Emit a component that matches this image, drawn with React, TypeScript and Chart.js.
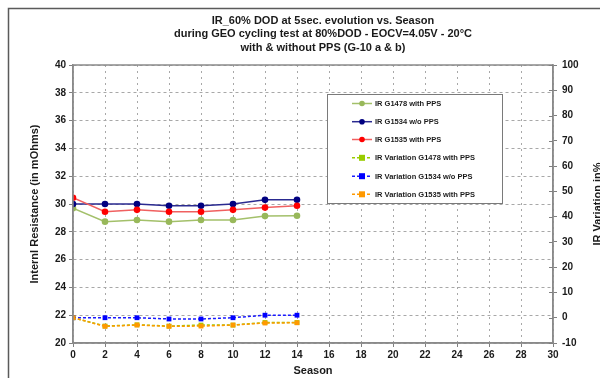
import React, { useEffect, useRef } from "react";
import { Chart, registerables } from "chart.js";

Chart.register(...registerables);

const seasons = [0, 2, 4, 6, 8, 10, 12, 14];
const irG1478 = [29.7, 28.73, 28.85, 28.73, 28.85, 28.85, 29.13, 29.15];
const irG1534 = [30.0, 30.0, 30.0, 29.87, 29.87, 30.0, 30.3, 30.3];
const irG1535 = [30.45, 29.44, 29.58, 29.44, 29.44, 29.58, 29.74, 29.87];
const varG1478 = [0, -3.3, -2.8, -3.3, -2.9, -2.9, -1.9, -1.9];
const varG1534 = [0, 0, 0, -0.5, -0.5, 0, 1.0, 1.0];
const varG1535 = [0, -3.4, -2.9, -3.4, -3.3, -2.9, -2.1, -2.0];

const seriesLabels = [
  "IR G1478 with PPS",
  "IR G1534 w/o PPS",
  "IR G1535 with PPS",
  "IR Variation G1478 with PPS",
  "IR Variation G1534 w/o PPS",
  "IR Variation G1535 with PPS",
];

const titleLines = [
  "IR_60% DOD at 5sec. evolution vs. Season",
  "during GEO cycling test at 80%DOD - EOCV=4.05V - 20°C",
  "with & without PPS (G-10 a & b)",
];
const xTitle = "Season";
const yTitle = "Internl Resistance (in mOhms)";
const y1Title = "IR Variation in%";

const FONT = "'Liberation Sans', Arial, sans-serif";

const pts = (vals: number[]) => vals.map((v, i) => ({ x: seasons[i], y: v }));

const decorPlugin = {
  id: "decor",
  beforeDraw(chart: any) {
    const ctx = chart.ctx;
    ctx.save();
    ctx.fillStyle = "#ffffff";
    ctx.fillRect(0, 0, chart.width, chart.height);
    ctx.restore();
  },
  afterDraw(chart: any) {
    const ctx = chart.ctx;
    const ca = chart.chartArea;
    ctx.save();
    // outer frame
    ctx.strokeStyle = "#5a5a5a";
    ctx.lineWidth = 1.5;
    ctx.beginPath();
    ctx.moveTo(8.5, chart.height);
    ctx.lineTo(8.5, 8.5);
    ctx.lineTo(chart.width, 8.5);
    ctx.stroke();

    // plot border
    ctx.strokeStyle = "#8a8a8a";
    ctx.lineWidth = 1.5;
    ctx.strokeRect(ca.left, ca.top, ca.right - ca.left, ca.bottom - ca.top);

    // inner ticks for right axis
    const y1 = chart.scales.y1;
    ctx.lineWidth = 1;
    ctx.strokeStyle = "#808080";
    y1.ticks.forEach((t: any) => {
      const yy = Math.round(y1.getPixelForValue(t.value)) + 0.5;
      ctx.beginPath();
      ctx.moveTo(ca.right - 4, yy);
      ctx.lineTo(ca.right, yy);
      ctx.stroke();
    });

    // title
    ctx.fillStyle = "#1a1a1a";
    ctx.font = `bold 11px ${FONT}`;
    ctx.textAlign = "center";
    ctx.textBaseline = "middle";
    const cx = 323;
    titleLines.forEach((l, i) => ctx.fillText(l, cx, 21 + i * 13.3));

    // axis titles
    ctx.fillText(xTitle, (ca.left + ca.right) / 2, 371);
    ctx.save();
    ctx.translate(35, (ca.top + ca.bottom) / 2);
    ctx.rotate(-Math.PI / 2);
    ctx.fillText(yTitle, 0, 0);
    ctx.restore();
    ctx.save();
    ctx.translate(598, 204);
    ctx.rotate(-Math.PI / 2);
    ctx.fillText(y1Title, 0, 0);
    ctx.restore();

    // legend
    const lx = 327.5, ly = 94.5, lw = 175, lh = 109;
    ctx.fillStyle = "#ffffff";
    ctx.fillRect(lx, ly, lw, lh);
    ctx.strokeStyle = "#7a7a7a";
    ctx.lineWidth = 1;
    ctx.strokeRect(lx, ly, lw, lh);
    const rows = [103.5, 121.7, 139.5, 157.8, 176.2, 194.3];
    chart.data.datasets.forEach((ds: any, i: number) => {
      const y = rows[i];
      ctx.save();
      ctx.strokeStyle = ds.borderColor;
      ctx.lineWidth = 1.5;
      ctx.setLineDash(ds.borderDash || []);
      ctx.beginPath();
      ctx.moveTo(352, y);
      ctx.lineTo(372, y);
      ctx.stroke();
      ctx.restore();
      ctx.fillStyle = ds.pointBackgroundColor;
      if (ds.pointStyle === "rect") {
        ctx.fillRect(362 - 3, y - 3, 6, 6);
      } else {
        ctx.beginPath();
        ctx.arc(362, y, 2.8, 0, Math.PI * 2);
        ctx.fill();
      }
      ctx.fillStyle = "#1a1a1a";
      ctx.font = `bold 7.5px ${FONT}`;
      ctx.textAlign = "left";
      ctx.fillText(ds.label, 375, y + 0.5);
    });
    ctx.restore();
  },
};

export default function App() {
  const ref = useRef<HTMLCanvasElement | null>(null);
  useEffect(() => {
    if (!ref.current) return;
    const mk = (
      i: number,
      vals: number[],
      line: string,
      point: string,
      axis: string,
      dashed: boolean
    ) => ({
      label: seriesLabels[i],
      data: pts(vals),
      yAxisID: axis,
      borderColor: line,
      backgroundColor: point,
      pointBackgroundColor: point,
      pointBorderColor: point,
      pointStyle: dashed ? "rect" : "circle",
      pointRadius: dashed ? 3.4 : 3.3,
      pointBorderWidth: 0,
      borderWidth: 1.5,
      borderDash: dashed ? [3, 2] : [],
      tension: 0,
      fill: false,
      order: 6 - i,
    });
    const chart = new Chart(ref.current, {
      type: "line",
      data: {
        datasets: [
          mk(0, irG1478, "#a3c06a", "#98b85a", "y", false),
          mk(1, irG1534, "#2a2a90", "#000080", "y", false),
          mk(2, irG1535, "#f06060", "#ff0000", "y", false),
          mk(3, varG1478, "#99cc00", "#99cc00", "y1", true),
          mk(4, varG1534, "#1a1aff", "#0000ff", "y1", true),
          mk(5, varG1535, "#ff9900", "#ff9900", "y1", true),
        ],
      },
      options: {
        animation: false,
        responsive: false,
        maintainAspectRatio: false,
        devicePixelRatio: 1,
        layout: { padding: { top: 65, left: 0, right: 0, bottom: 0 } },
        plugins: {
          legend: { display: false },
          title: { display: false },
          tooltip: { enabled: false },
        },
        scales: {
          x: {
            type: "linear",
            min: 0,
            max: 30,
            ticks: {
              stepSize: 2,
              color: "#1a1a1a",
              font: { family: FONT, size: 10, weight: "bold" },
              padding: 2,
              maxRotation: 0,
            },
            grid: {
              color: "#a8a8a8",
              lineWidth: 1,
              tickLength: 4,
              tickColor: "#808080",
            },
            border: { display: true, color: "#8a8a8a", width: 1.5, dash: [2, 4] },
            afterFit: (s: any) => {
              s.height = 35;
            },
          },
          y: {
            type: "linear",
            position: "left",
            min: 20,
            max: 40,
            ticks: {
              stepSize: 2,
              color: "#1a1a1a",
              font: { family: FONT, size: 10, weight: "bold" },
              padding: 3,
            },
            grid: {
              color: "#a8a8a8",
              lineWidth: 1,
              tickLength: 4,
              tickColor: "#808080",
            },
            border: { display: true, color: "#8a8a8a", width: 1.5, dash: [3, 3] },
            afterFit: (s: any) => {
              s.width = 73;
            },
          },
          y1: {
            type: "linear",
            position: "right",
            min: -10,
            max: 100,
            ticks: {
              stepSize: 10,
              color: "#1a1a1a",
              font: { family: FONT, size: 10, weight: "bold" },
              padding: 5,
            },
            grid: {
              drawOnChartArea: false,
              tickLength: 4,
              tickColor: "#808080",
            },
            border: { display: true, color: "#8a8a8a", width: 1.5 },
            afterFit: (s: any) => {
              s.width = 47;
            },
          },
        },
      } as any,
      plugins: [decorPlugin],
    });
    return () => chart.destroy();
  }, []);
  return (
    <div style={{ position: "fixed", left: 0, top: 0, width: 600, height: 378, overflow: "hidden" }}>
      <canvas ref={ref} width={600} height={378} style={{ width: 600, height: 378, display: "block" }} />
    </div>
  );
}
